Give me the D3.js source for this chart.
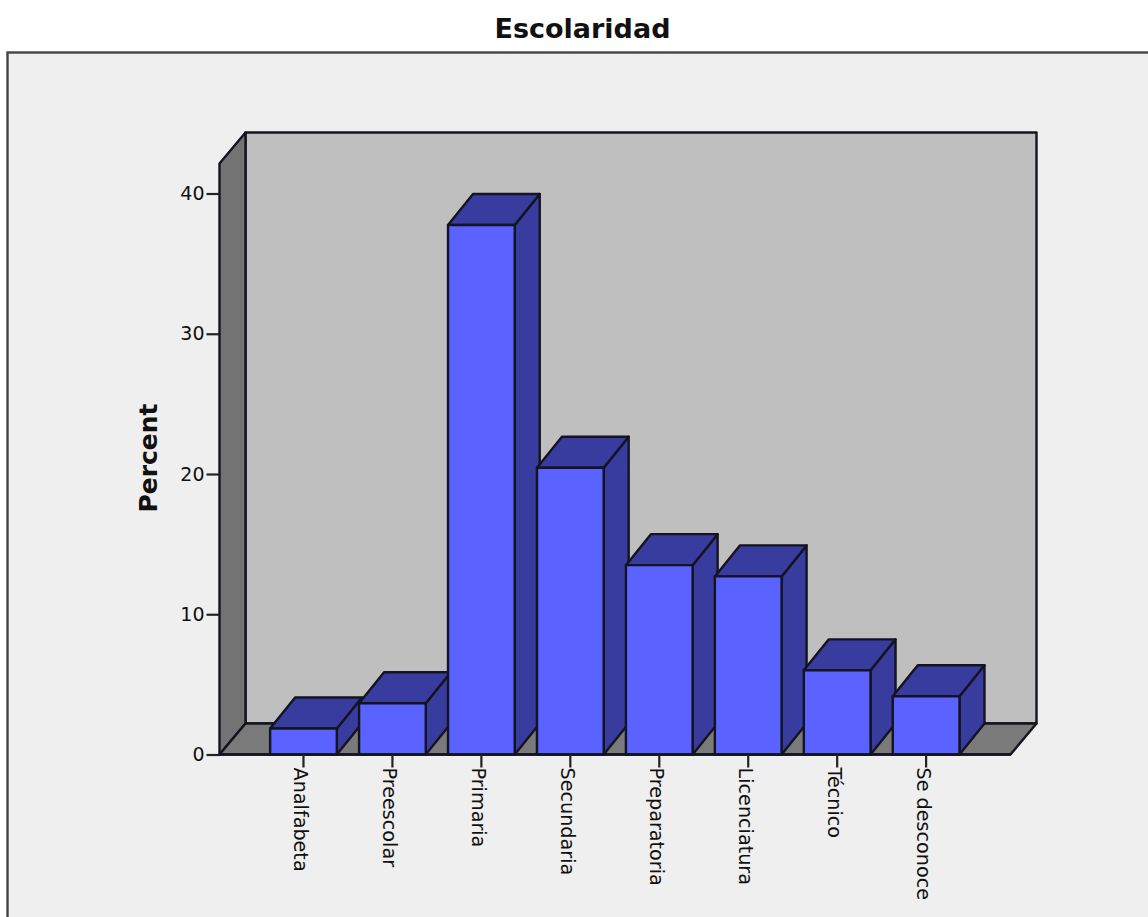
<!DOCTYPE html>
<html>
<head>
<meta charset="utf-8">
<script src="https://cdn.jsdelivr.net/npm/d3@7/dist/d3.min.js"></script>
<style>
  html, body { margin: 0; padding: 0; background: #fff; overflow: hidden; }
  svg { display: block; }
  text { fill: #111; }
</style>
</head>
<body>
<svg id="chart" width="1148" height="917"></svg>
<script>
const categories = ["Analfabeta", "Preescolar", "Primaria", "Secundaria", "Preparatoria", "Licenciatura", "Técnico", "Se desconoce"];
const percents = [1.85, 3.65, 37.75, 20.45, 13.5, 12.7, 6.0, 4.15];
const yTicks = [0, 10, 20, 30, 40];

const svg = d3.select("#chart");
const sans = "'DejaVu Sans', sans-serif";

// Oblique offset of the 3D box and of each bar
const boxDx = 26, boxDy = -31;
const barDx = 25, barDy = -31;

const y = d3.scaleLinear().domain([0, 40]).range([754.5, 193.5]);
const x = d3.scaleBand().domain(categories).range([259, 970.6]).paddingInner(0.25).paddingOuter(0.125);
const left = 219.5, right = 1010.5;
const base = y(0);
const frontTop = 163.5;

const outline = { stroke: "#141420", "stroke-width": 2.4, "stroke-linejoin": "round" };
const poly = (pts, fill) => {
  const p = svg.append("polygon")
    .attr("points", pts.map(d => d.join(",")).join(" "))
    .attr("fill", fill);
  Object.entries(outline).forEach(([k, v]) => p.attr(k, v));
  return p;
};

// Panel background
svg.append("rect").attr("x", 7.5).attr("y", 52.5).attr("width", 1160).attr("height", 900)
  .attr("fill", "#efefef").attr("stroke", "#444").attr("stroke-width", 2.4);

// Back wall, side wall and floor of the chart box
poly([[left + boxDx, frontTop + boxDy], [right + boxDx, frontTop + boxDy], [right + boxDx, base + boxDy], [left + boxDx, base + boxDy]], "#bfbfbf");
poly([[left, frontTop], [left + boxDx, frontTop + boxDy], [left + boxDx, base + boxDy], [left, base]], "#737373");
poly([[left, base], [left + boxDx, base + boxDy], [right + boxDx, base + boxDy], [right, base]], "#7a7a7a");

// Bars: front face plus oblique top and side faces
categories.forEach((c, i) => {
  const x0 = x(c), x1 = x0 + x.bandwidth(), top = y(percents[i]);
  poly([[x1, top], [x1 + barDx, top + barDy], [x1 + barDx, base + barDy], [x1, base]], "#383c9e");
  poly([[x0, top], [x0 + barDx, top + barDy], [x1 + barDx, top + barDy], [x1, top]], "#383c9e");
  poly([[x0, top], [x1, top], [x1, base], [x0, base]], "#5a62ff");
});

// Value axis
const yAxis = svg.append("g").attr("transform", `translate(${left},0)`)
  .call(d3.axisLeft(y).tickValues(yTicks).tickSize(13).tickPadding(2).tickSizeOuter(0));
yAxis.select(".domain").remove();
yAxis.selectAll("line").attr("stroke", "#222").attr("stroke-width", 2.2);
yAxis.selectAll("text").style("font", `19px ${sans}`).style("fill", "#111");

// Category axis with labels reading downwards
const xAxis = svg.append("g").attr("transform", `translate(0,${base})`)
  .call(d3.axisBottom(x).tickSize(13).tickSizeOuter(0));
xAxis.select(".domain").attr("stroke", "#141420").attr("stroke-width", 2.4).attr("d", `M${left},0H${right}`);
xAxis.selectAll("line").attr("stroke", "#222").attr("stroke-width", 2.2);
xAxis.selectAll("text")
  .style("font", `19.2px ${sans}`).style("fill", "#111")
  .attr("text-anchor", "start").attr("dy", null)
  .attr("transform", "translate(-9,13) rotate(90)")
  .attr("x", 0).attr("y", 0);

// Titles
svg.append("text").attr("x", 582.5).attr("y", 38).attr("text-anchor", "middle")
  .style("font", `bold 27px ${sans}`).text("Escolaridad");
svg.append("text").attr("transform", "translate(157,458) rotate(-90)").attr("text-anchor", "middle")
  .style("font", `bold 25px ${sans}`).text("Percent");
svg.append("text").attr("x", 612).attr("y", 937).attr("text-anchor", "middle")
  .style("font", `bold 25px ${sans}`).text("Escolaridad");
</script>
</body>
</html>
